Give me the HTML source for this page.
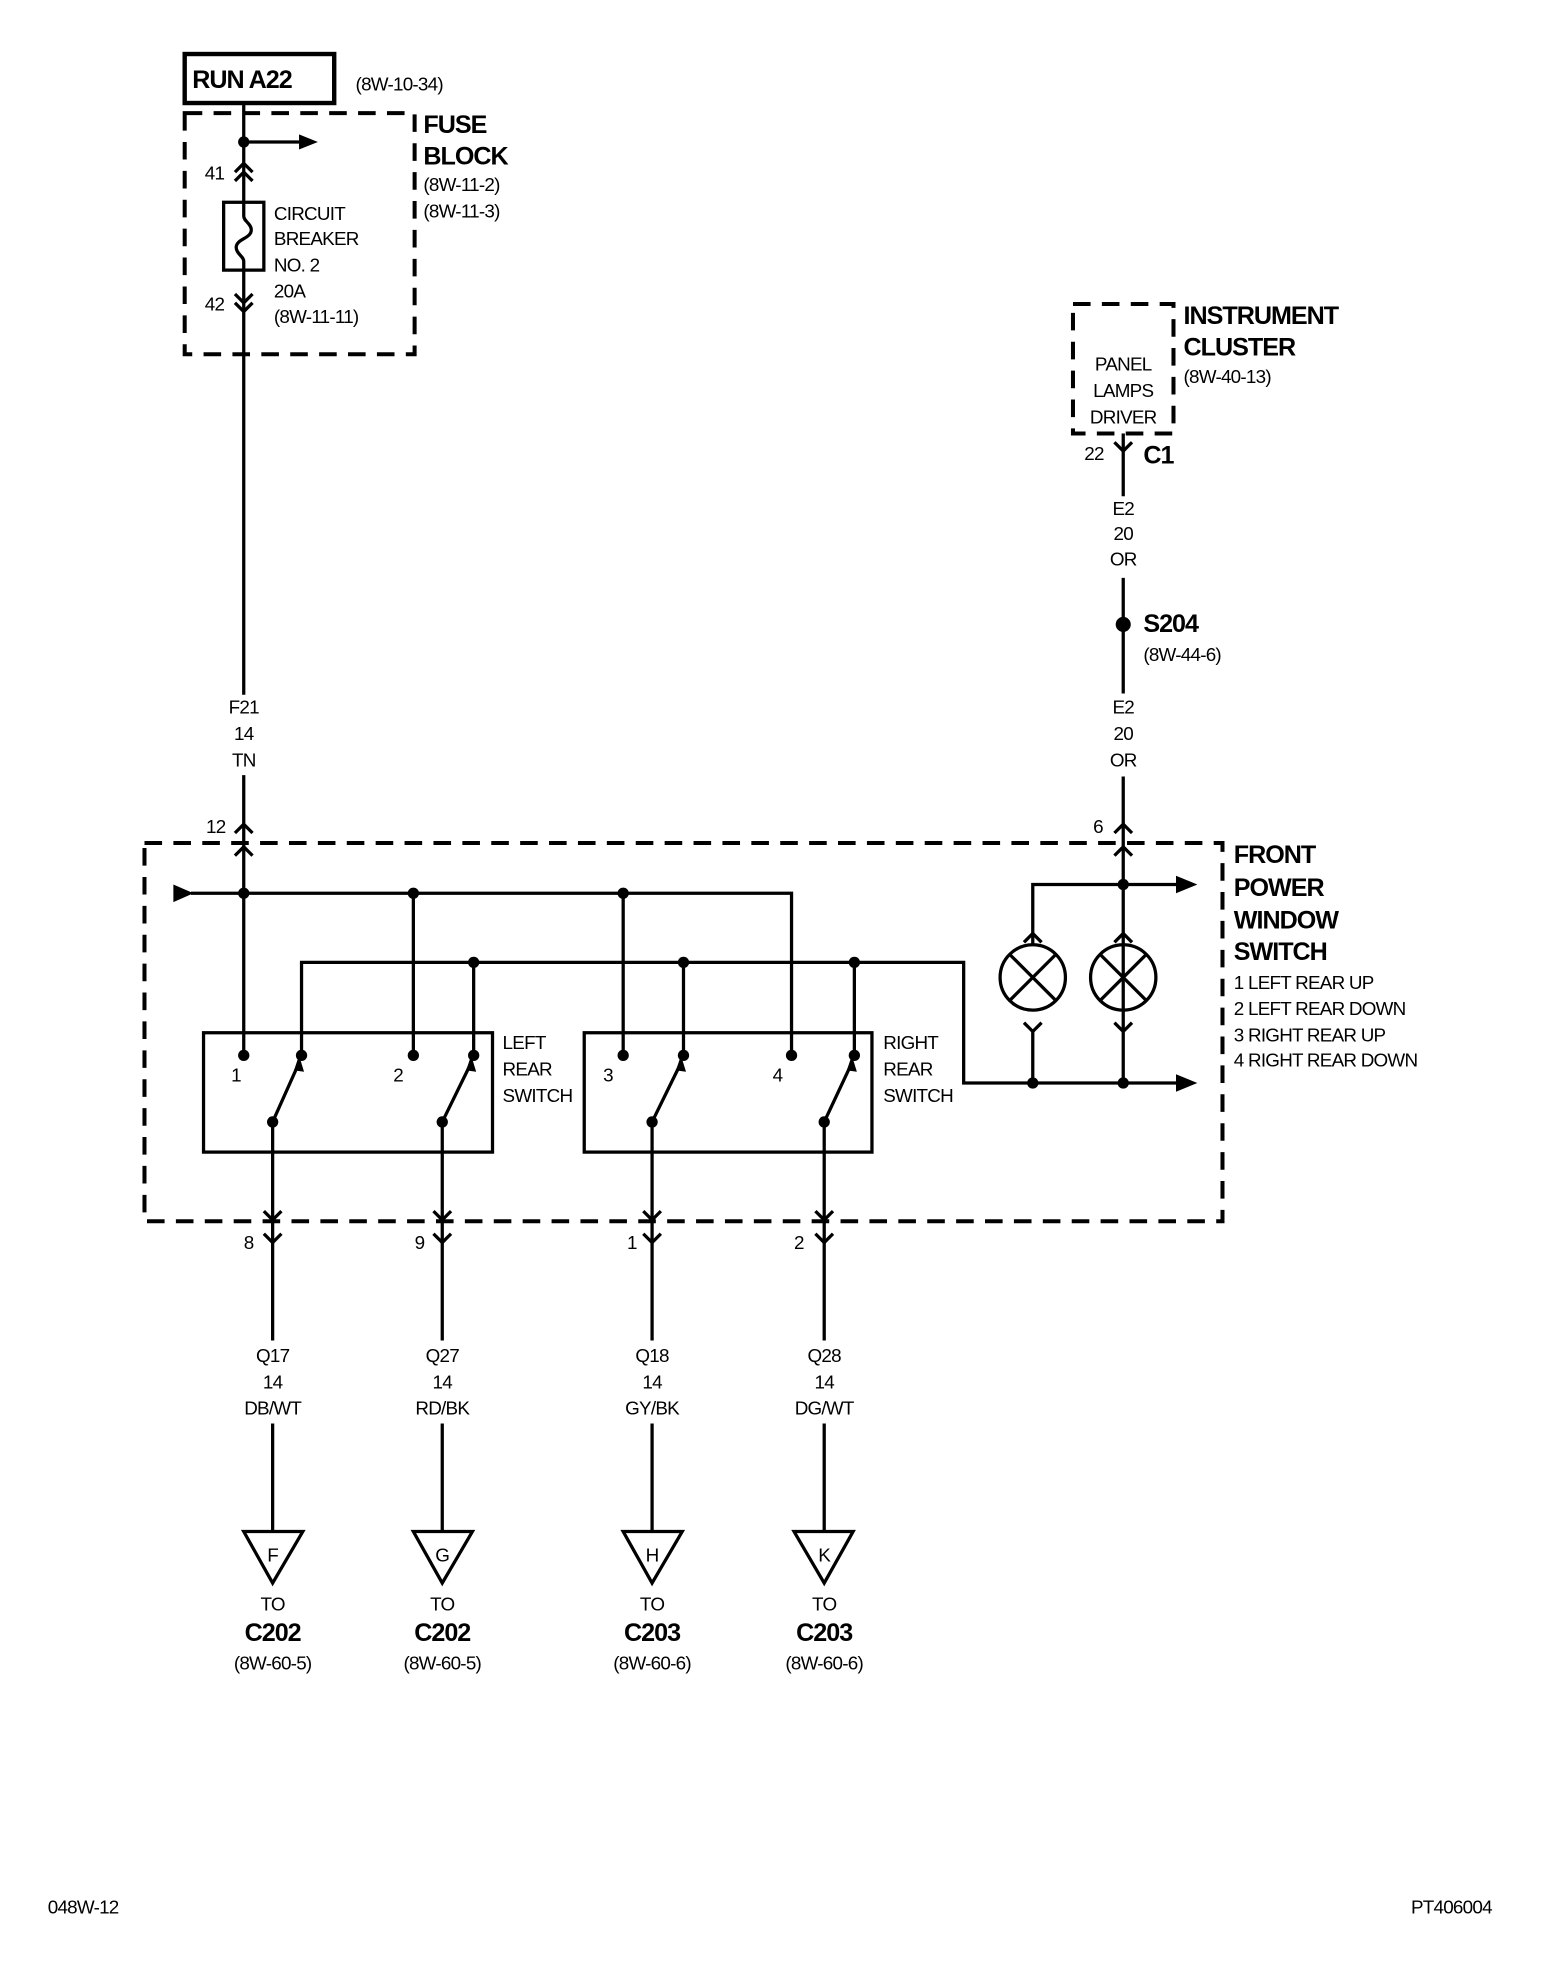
<!DOCTYPE html>
<html><head><meta charset="utf-8"><style>
html,body{margin:0;padding:0;background:#fff;}
svg{display:block;}
text{font-family:"Liberation Sans",Arial,sans-serif;fill:#000;}
.s{font-size:15px;letter-spacing:-0.6px;}
.b{font-size:20px;font-weight:bold;letter-spacing:-0.8px;}
</style></head><body>
<svg width="1568" height="1970" viewBox="0 0 1248 1568" preserveAspectRatio="none" xmlns="http://www.w3.org/2000/svg">
<g stroke="#000" stroke-width="2.6" fill="none">
<rect x="147" y="43" width="119" height="39" stroke-width="3.5"/>
<rect x="147" y="90" width="183" height="192" stroke-width="3.2" stroke-dasharray="14,9"/>
<line x1="194" y1="82" x2="194" y2="553"/>
<line x1="194" y1="617" x2="194" y2="840"/>
<line x1="194" y1="113" x2="238" y2="113"/>
<polyline points="187,137 194,130 201,137"/><polyline points="187,144 194,137 201,144"/>
<rect x="178" y="161" width="32" height="54" fill="#fff"/>
<path d="M194,161 V172 C194,176 200,178 200,183 C200,190 188,190 188,197 C188,202 194,204 194,208 V215"/>
<polyline points="187,234 194,241 201,234"/><polyline points="187,241 194,248 201,241"/>
<polyline points="187,663 194,656 201,663"/>
<polyline points="187,681 194,674 201,681"/>
<rect x="115" y="671" width="858" height="301" stroke-width="3.2" stroke-dasharray="14,9"/>
<polyline points="152,711 630,711 630,840"/>
<line x1="329" y1="711" x2="329" y2="840"/>
<line x1="496" y1="711" x2="496" y2="840"/>
<polyline points="240,840 240,766 767,766 767,862 938,862"/>
<line x1="377" y1="766" x2="377" y2="840"/>
<line x1="544" y1="766" x2="544" y2="840"/>
<line x1="680" y1="766" x2="680" y2="840"/>
<rect x="162" y="822" width="230" height="95"/>
<rect x="465" y="822" width="229" height="95"/>
<line x1="217" y1="893" x2="238" y2="846"/>
<line x1="352" y1="893" x2="375" y2="846"/>
<line x1="519" y1="893" x2="542" y2="846"/>
<line x1="656" y1="893" x2="678" y2="846"/>
<g>
<line x1="217" y1="893" x2="217" y2="1067"/><line x1="217" y1="1133" x2="217" y2="1218"/>
<line x1="352" y1="893" x2="352" y2="1067"/><line x1="352" y1="1133" x2="352" y2="1218"/>
<line x1="519" y1="893" x2="519" y2="1067"/><line x1="519" y1="1133" x2="519" y2="1218"/>
<line x1="656" y1="893" x2="656" y2="1067"/><line x1="656" y1="1133" x2="656" y2="1218"/>
</g>
<g>
<polyline points="210,964 217,971 224,964"/><polyline points="210,982 217,989 224,982"/>
<polyline points="345,964 352,971 359,964"/><polyline points="345,982 352,989 359,982"/>
<polyline points="512,964 519,971 526,964"/><polyline points="512,982 519,989 526,982"/>
<polyline points="649,964 656,971 663,964"/><polyline points="649,982 656,989 663,982"/>
</g>
<polygon points="194,1219 241,1219 217,1260"/>
<polygon points="329,1219 376,1219 352,1260"/>
<polygon points="496,1219 543,1219 519,1260"/>
<polygon points="632,1219 679,1219 656,1260"/>
<rect x="854" y="242" width="80" height="103" stroke-width="3.2" stroke-dasharray="14,9"/>
<line x1="894" y1="345" x2="894" y2="395"/>
<polyline points="887,352 894,359 901,352"/>
<line x1="894" y1="460" x2="894" y2="552"/>
<line x1="894" y1="618" x2="894" y2="860"/>
<polyline points="887,663 894,656 901,663"/>
<polyline points="887,681 894,674 901,681"/>
<polyline points="822,752 822,704 894,704"/>
<line x1="894" y1="704" x2="938" y2="704"/>
<polyline points="815,750 822,743 829,750"/>
<polyline points="887,750 894,743 901,750"/>
<circle cx="822" cy="778" r="26"/><circle cx="894" cy="778" r="26"/>
<line x1="804" y1="760" x2="840" y2="796"/><line x1="840" y1="760" x2="804" y2="796"/>
<line x1="876" y1="760" x2="912" y2="796"/><line x1="912" y1="760" x2="876" y2="796"/>
<polyline points="815,814 822,821 829,814"/>
<polyline points="887,814 894,821 901,814"/>
<line x1="822" y1="821" x2="822" y2="862"/>
</g>
<g fill="#000">
<polygon points="238,107 253,113 238,119"/>
<polygon points="138,704 154,711 138,718"/>
<polygon points="936,697 953,704 936,711"/>
<polygon points="936,855 953,862 936,869"/>
<polygon points="238,840 234,852 242,853"/>
<polygon points="375,840 371,852 379,853"/>
<polygon points="542,840 538,852 546,853"/>
<polygon points="678,840 674,852 682,853"/>
<circle cx="194" cy="113" r="4.5"/>
<circle cx="194" cy="711" r="4.5"/><circle cx="329" cy="711" r="4.5"/><circle cx="496" cy="711" r="4.5"/>
<circle cx="377" cy="766" r="4.5"/><circle cx="544" cy="766" r="4.5"/><circle cx="680" cy="766" r="4.5"/>
<circle cx="194" cy="840" r="4.5"/><circle cx="240" cy="840" r="4.5"/><circle cx="329" cy="840" r="4.5"/><circle cx="377" cy="840" r="4.5"/>
<circle cx="496" cy="840" r="4.5"/><circle cx="544" cy="840" r="4.5"/><circle cx="630" cy="840" r="4.5"/><circle cx="680" cy="840" r="4.5"/>
<circle cx="217" cy="893" r="4.5"/><circle cx="352" cy="893" r="4.5"/><circle cx="519" cy="893" r="4.5"/><circle cx="656" cy="893" r="4.5"/>
<circle cx="894" cy="704" r="4.5"/><circle cx="822" cy="862" r="4.5"/><circle cx="894" cy="862" r="4.5"/>
<circle cx="894" cy="497" r="6"/>
</g>
<text x="153" y="70" class="b">RUN A22</text>
<text x="283" y="72" class="s">(8W-10-34)</text>
<text x="337" y="106" class="b">FUSE</text>
<text x="337" y="131" class="b">BLOCK</text>
<text x="337" y="152" class="s">(8W-11-2)</text>
<text x="337" y="173" class="s">(8W-11-3)</text>
<text x="163" y="143" class="s">41</text>
<text x="163" y="247" class="s">42</text>
<text x="218" y="175" class="s">CIRCUIT</text>
<text x="218" y="195" class="s">BREAKER</text>
<text x="218" y="216" class="s">NO. 2</text>
<text x="218" y="237" class="s">20A</text>
<text x="218" y="257" class="s">(8W-11-11)</text>
<g class="s" text-anchor="middle">
<text x="194" y="568">F21</text><text x="194" y="589">14</text><text x="194" y="610">TN</text>
<text x="894" y="410">E2</text><text x="894" y="430">20</text><text x="894" y="450">OR</text>
<text x="894" y="568">E2</text><text x="894" y="589">20</text><text x="894" y="610">OR</text>
<text x="894" y="295">PANEL</text><text x="894" y="316">LAMPS</text><text x="894" y="337">DRIVER</text>
<text x="217" y="1084">Q17</text><text x="217" y="1105">14</text><text x="217" y="1126">DB/WT</text>
<text x="352" y="1084">Q27</text><text x="352" y="1105">14</text><text x="352" y="1126">RD/BK</text>
<text x="519" y="1084">Q18</text><text x="519" y="1105">14</text><text x="519" y="1126">GY/BK</text>
<text x="656" y="1084">Q28</text><text x="656" y="1105">14</text><text x="656" y="1126">DG/WT</text>
<text x="217" y="1243">F</text><text x="352" y="1243">G</text><text x="519" y="1243">H</text><text x="656" y="1243">K</text>
<text x="217" y="1282">TO</text><text x="352" y="1282">TO</text><text x="519" y="1282">TO</text><text x="656" y="1282">TO</text>
<text x="217" y="1329">(8W-60-5)</text><text x="352" y="1329">(8W-60-5)</text><text x="519" y="1329">(8W-60-6)</text><text x="656" y="1329">(8W-60-6)</text>
</g>
<g class="b" text-anchor="middle">
<text x="217" y="1306">C202</text><text x="352" y="1306">C202</text><text x="519" y="1306">C203</text><text x="656" y="1306">C203</text>
</g>
<text x="164" y="663" class="s">12</text>
<text x="870" y="663" class="s">6</text>
<text x="184" y="861" class="s">1</text><text x="313" y="861" class="s">2</text>
<text x="480" y="861" class="s">3</text><text x="615" y="861" class="s">4</text>
<text x="400" y="835" class="s">LEFT</text><text x="400" y="856" class="s">REAR</text><text x="400" y="877" class="s">SWITCH</text>
<text x="703" y="835" class="s">RIGHT</text><text x="703" y="856" class="s">REAR</text><text x="703" y="877" class="s">SWITCH</text>
<text x="194" y="994" class="s">8</text><text x="330" y="994" class="s">9</text>
<text x="499" y="994" class="s">1</text><text x="632" y="994" class="s">2</text>
<text x="942" y="258" class="b">INSTRUMENT</text>
<text x="942" y="283" class="b">CLUSTER</text>
<text x="942" y="305" class="s">(8W-40-13)</text>
<text x="863" y="366" class="s">22</text>
<text x="910" y="369" class="b">C1</text>
<text x="910" y="503" class="b">S204</text>
<text x="910" y="526" class="s">(8W-44-6)</text>
<text x="982" y="687" class="b">FRONT</text>
<text x="982" y="713" class="b">POWER</text>
<text x="982" y="739" class="b">WINDOW</text>
<text x="982" y="764" class="b">SWITCH</text>
<text x="982" y="787" class="s">1 LEFT REAR UP</text>
<text x="982" y="808" class="s">2 LEFT REAR DOWN</text>
<text x="982" y="829" class="s">3 RIGHT REAR UP</text>
<text x="982" y="849" class="s">4 RIGHT REAR DOWN</text>
<text x="38" y="1523" class="s">048W-12</text>
<text x="1123" y="1523" class="s">PT406004</text>
</svg>
</body></html>
